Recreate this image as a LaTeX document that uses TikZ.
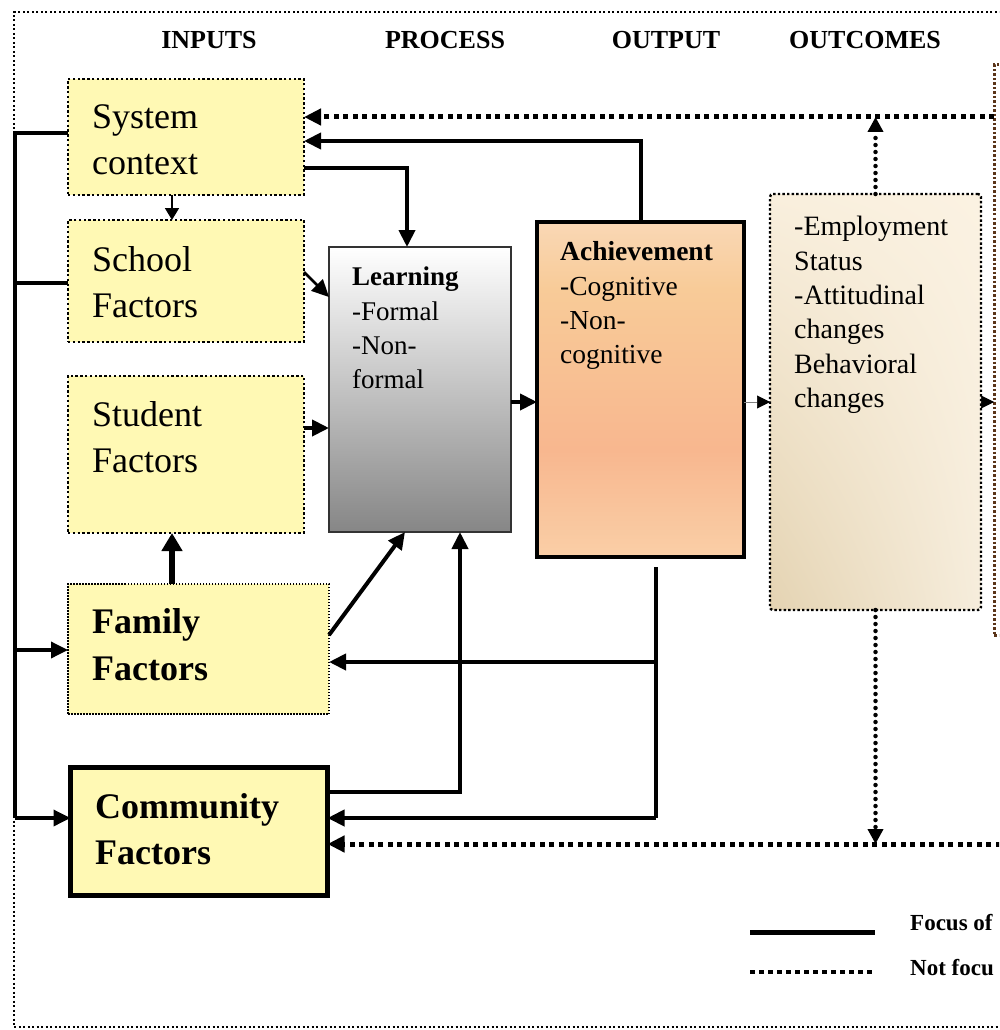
\documentclass[tikz,border=0pt]{standalone}
\usepackage{fontspec}
\setmainfont{Liberation Serif}
\usetikzlibrary{arrows.meta,shadings}
\definecolor{boxyel}{HTML}{FFF9B4}
\definecolor{learnbot}{HTML}{868686}
\definecolor{achtop}{HTML}{FCEBD8}
\definecolor{achpink}{HTML}{FDE8EC}
\definecolor{achlight}{HTML}{FAD9B8}
\definecolor{achorange}{HTML}{F8CB98}
\definecolor{achsalmon}{HTML}{F8B78F}
\definecolor{achpeach}{HTML}{FAD0A8}
\definecolor{achlo}{HTML}{FCE0C8}
\definecolor{achbot}{HTML}{FDE9EC}
\definecolor{partbrown}{HTML}{5A3418}
\definecolor{outll}{RGB}{228,211,178}
\definecolor{outur}{RGB}{251,242,226}
\definecolor{outul}{RGB}{249,239,221}
\definecolor{outlr}{RGB}{246,237,220}
\pgfdeclareverticalshading{achshade}{100bp}{color(0bp)=(achbot); color(9bp)=(achlo); color(24bp)=(achpeach); color(41bp)=(achsalmon); color(65bp)=(achorange); color(76bp)=(achlight); color(85bp)=(achpink); color(100bp)=(achtop)}
\tikzset{
  ybox/.style={draw, fill=boxyel, line width=2.4pt, dash pattern=on 2.4pt off 2.4pt, inner sep=0pt, outer sep=0pt, anchor=north west},
  bigtxt/.style={font=\fontsize{36}{46}\selectfont, align=left, inner sep=0pt, anchor=north west},
  midtxt/.style={font=\fontsize{27}{34.3}\selectfont, align=left, inner sep=0pt, anchor=north west},
  hdr/.style={font=\fontsize{26}{30}\selectfont\bfseries, inner sep=0pt, anchor=base},
  legtxt/.style={font=\fontsize{23}{26}\selectfont\bfseries, inner sep=0pt, anchor=base west},
  con/.style={line width=4pt},
  arr/.style={con, -{Triangle[length=17pt,width=16pt]}},
  darr/.style={line width=5pt, dash pattern=on 5pt off 4.5pt, -{Triangle[length=17pt,width=16pt]}},
  darrv/.style={line width=4.5pt, line cap=round, dash pattern=on 0pt off 7pt, -{Triangle[length=15pt,width=15pt]}},
  thinarr/.style={line width=0.6pt, draw=gray, -{Triangle[length=13pt,width=13pt,color=black]}},
  frame/.style={line width=2pt, dash pattern=on 2pt off 2.5pt},
}
\begin{document}
\begin{tikzpicture}[x=1pt,y=-1pt]
\useasboundingbox (0,0) rectangle (999,1030);
\clip (0,0) rectangle (999,1030);
% outer frame
\draw[frame] (1010,12) -- (14,12) -- (14,1027) -- (1010,1027);
% headers
\node[hdr] (hin) at (209,49) {INPUTS};
\node[hdr] (hpr) at (445,49) {PROCESS};
\node[hdr] (hou) at (666,49) {OUTPUT};
\node[hdr] (hoc) at (865,49) {OUTCOMES};
% boxes
\node[ybox, minimum width=236pt, minimum height=116pt] (sys) at (68,79) {};
\node[ybox, minimum width=236pt, minimum height=122pt] (sch) at (68,220) {};
\node[ybox, minimum width=236pt, minimum height=157pt] (stu) at (68,376) {};
\node[ybox, line width=1.5pt, dash pattern=on 1.5pt off 1.5pt, minimum width=261pt, minimum height=130pt] (fam) at (68,584) {};
\node[draw, fill=boxyel, line width=5pt, inner sep=0pt, outer sep=0pt, anchor=north west, minimum width=257pt, minimum height=128pt] (com) at (70.5,767.5) {};
\node[draw=black!80, line width=1.5pt, top color=white, bottom color=learnbot, inner sep=0pt, outer sep=0pt, anchor=north west, minimum width=182pt, minimum height=285pt] (learn) at (329,247) {};
\node[draw, line width=4.5pt, shading=achshade, inner sep=0pt, outer sep=0pt, anchor=north west, minimum width=207pt, minimum height=335pt] (ach) at (537,222) {};
\node[draw, line width=2.4pt, dash pattern=on 2.4pt off 2.2pt, rounded corners=3pt, lower left=outll, upper right=outur, upper left=outul, lower right=outlr, inner sep=0pt, outer sep=0pt, anchor=north west, minimum width=211pt, minimum height=416pt] (out) at (770,194) {};
\node[draw=partbrown, line width=3pt, dash pattern=on 2.5pt off 2pt, inner sep=0pt, outer sep=0pt, anchor=north west, minimum width=100pt, minimum height=570pt] (part) at (994,65) {};
% texts
\node[bigtxt] (syst) at (92,104) {System\\context};
\node[bigtxt] (scht) at (92,246) {School\\Factors};
\node[bigtxt] (stut) at (92,401) {Student\\Factors};
\node[bigtxt, font=\fontsize{36}{47}\selectfont\bfseries] (famt) at (92,608) {Family\\Factors};
\node[bigtxt, font=\fontsize{36}{46}\selectfont\bfseries] (comt) at (95,793) {Community\\Factors};
\node[midtxt] (learnt) at (352,267) {\textbf{Learning}\\-Formal\\-Non-\\formal};
\node[midtxt, font=\fontsize{27.5}{34.3}\selectfont] (acht) at (560,241.5) {\textbf{Achievement}\\-Cognitive\\-Non-\\cognitive};
\node[midtxt, font=\fontsize{28}{34.4}\selectfont] (outt) at (794,216) {-Employment\\Status\\-Attitudinal\\changes\\Behavioral\\changes};
% left bus
\coordinate (busT) at (15,133);
\coordinate (busB) at (15,818);
\draw[line width=3.5pt] (sys.west |- busT) -- (busT) -- (busB);
\draw[line width=3.5pt] (busT |- 0,283) -- (sch.west |- 0,283);
\draw[arr, line width=3.5pt] (busT |- 0,650) -- (fam.west |- 0,650);
\draw[arr, line width=3.5pt] (busB) -- (com.west |- busB);
% system context links
\draw[line width=1.8pt, -{Triangle[length=12pt,width=14pt]}] (sys.south -| 172,0) -- (sch.north -| 172,0);
\coordinate (rt) at (1010,117);
\draw[darr] (part.west |- rt) -- (sys.east |- rt);
\draw[darrv] (out.north) -- (out.north |- rt);
\draw[arr] (ach.north) |- (sys.east |- 0,141);
\draw[arr] (sys.east |- 0,168) -| (learn.north -| 407,0);
% inputs to learning
\draw[arr, line width=2.8pt] (sch.east |- 0,272) -- (learn.west |- 0,297);
\draw[arr] (stu.east |- 0,428) -- (learn.west |- 0,428);
\draw[line width=6pt, -{Triangle[length=18pt,width=20pt]}] (fam.north -| 172,0) -- (stu.south -| 172,0);
\draw[arr] (fam.east |- 0,635) -- (learn.south -| 405,0);
\draw[arr] (com.east |- 0,792) -| (learn.south -| 460,0);
% achievement feedback
\coordinate (achb) at (656,567);
\coordinate (achc) at (656,818);
\draw[con] (achb) -- (achc);
\draw[arr] (achb |- 0,662) -- (fam.east |- 0,662);
\draw[arr] (achc) -- (com.east |- achc);
% bottom dotted feedback
\coordinate (rb) at (1010,844);
\draw[darr] (rb) -- (com.east |- rb);
\draw[darrv] (out.south) -- (out.south |- rb);
% main flow
\draw[arr] (learn.east |- 0,402) -- (ach.west |- 0,402);
\draw[thinarr] (ach.east |- 0,402) -- (out.west |- 0,402);
\draw[thinarr] (out.east |- 0,402) -- (part.west |- 0,402);
% legend
\coordinate (la) at (750,932);
\coordinate (lb) at (875,932);
\coordinate (lc) at (750,972);
\coordinate (ld) at (875,972);
\draw[line width=5pt] (la) -- (lb);
\draw[line width=4.5pt, dash pattern=on 4.5pt off 4.5pt] (lc) -- (ld);
\node[legtxt] (lft) at (910,930) {Focus of};
\node[legtxt] (lnt) at (910,975) {Not focu};
\end{tikzpicture}
\end{document}
